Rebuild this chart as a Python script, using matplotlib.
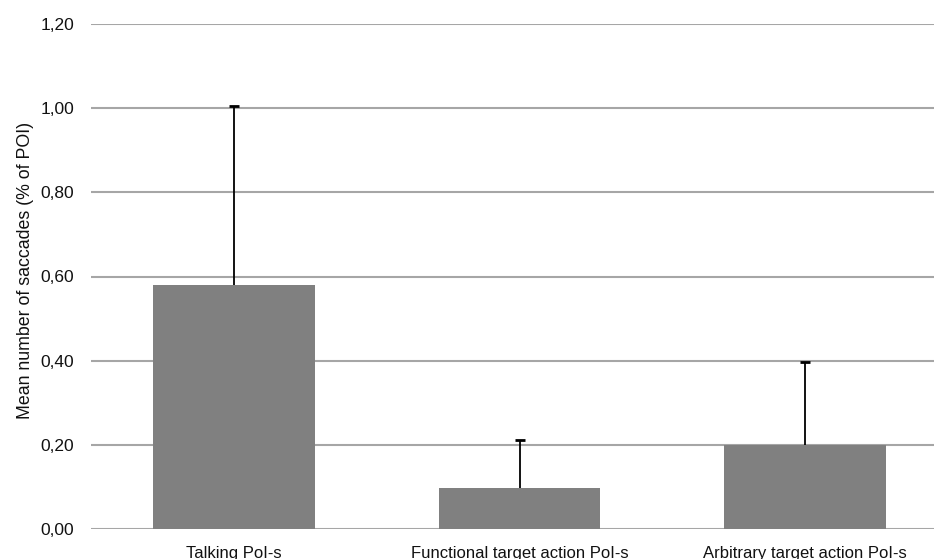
import matplotlib
matplotlib.use("Agg")
import matplotlib.pyplot as plt

categories = ["Talking PoI-s", "Functional target action PoI-s", "Arbitrary target action PoI-s"]
means = [0.58, 0.097, 0.20]
errors = [0.425, 0.114, 0.197]
yticks = [0.0, 0.2, 0.4, 0.6, 0.8, 1.0, 1.2]
ytick_labels = ["0,00", "0,20", "0,40", "0,60", "0,80", "1,00", "1,20"]

plt.rcParams["font.family"] = ["Liberation Sans", "DejaVu Sans"]

W, H = 934, 559
fig = plt.figure(figsize=(W / 100, H / 100), dpi=100)
left, right = 91, 948
top, bottom = 24, 529
ax = fig.add_axes([left / W, 1 - bottom / H, (right - left) / W, (bottom - top) / H])

x = list(range(len(categories)))
tops = [m + e for m, e in zip(means, errors)]
ax.bar(x, means, width=0.567, color="#808080", zorder=2)
# upper-only error whiskers with a cap at the top end
ax.vlines(x, means, tops, colors="black", linewidth=1.3, zorder=3)
ax.plot(x, tops, linestyle="none", marker="_", markersize=7,
        markeredgewidth=2, color="black", zorder=3)

ax.set_xlim(-0.5, len(categories) - 0.5)
ax.set_ylim(0, 1.2)
ax.set_yticks(yticks)
ax.set_yticklabels(ytick_labels, fontsize=12.5, color="#111111")
ax.set_xticks(x)
ax.set_xticklabels(categories, fontsize=12, color="#111111")
ax.yaxis.grid(True, color="#a6a6a6", linewidth=1.5, zorder=0)
ax.set_axisbelow(True)
for s in ax.spines.values():
    s.set_visible(False)
ax.tick_params(axis="both", length=0)
ax.tick_params(axis="y", pad=12)
ax.tick_params(axis="x", pad=12)
ax.set_ylabel("Mean number of saccades (% of POI)", fontsize=12.8, color="#111111")
ax.yaxis.set_label_coords(-(left - 34) / (right - left), (bottom - 270) / (bottom - top))

fig.savefig("out.png", dpi=100)
